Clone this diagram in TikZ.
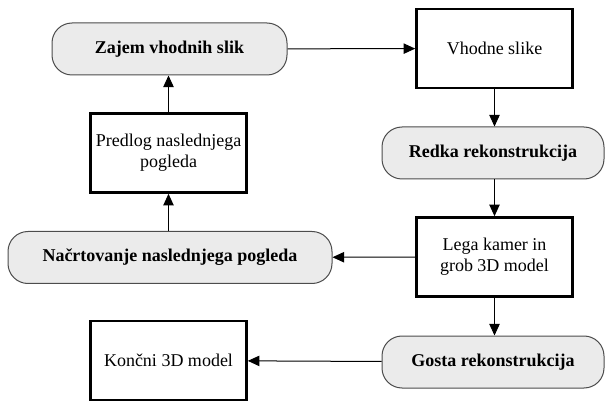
\documentclass[tikz,border=0pt]{standalone}
\usepackage{fontspec}
\setmainfont{Liberation Serif}
\usetikzlibrary{arrows.meta}

\begin{document}
\begin{tikzpicture}[
		x=0.5pt, y=-0.5pt, % koordinate v pikslih slike
		korak/.style={            % zaobljen siv korak
			draw=black!70, fill=black!8,
			rounded corners=10pt, line width=0.5pt,
			minimum height=26pt, inner sep=2pt,
			font=\fontsize{9}{10.5}\selectfont\bfseries
		},
		podatek/.style={          % debel pravokotnik
			draw=black, fill=white, line width=1.3pt,
			minimum width=78pt, minimum height=39.5pt,
			inner sep=2pt, align=center,
			font=\fontsize{9}{10.5}\selectfont
		},
		tok/.style={              % puscica
			-{Triangle[length=5.8pt,width=5.2pt]},
			black, line width=0.5pt
		}
	]
	\useasboundingbox (0,0) rectangle (606,401);

	% --- LEVI STOLPEC ---
	\node[korak, minimum width=117.5pt] (zajem) at (169.5,49) {Zajem vhodnih slik};
	\node[podatek] (predlog) at (168.5,153) {Predlog naslednjega\\pogleda};
	\node[korak, minimum width=162pt] (nacrt) at (170,257.5) {Načrtovanje naslednjega pogleda};
	\node[podatek] (koncni) at (168.5,360.5) {Končni 3D model};

	% --- DESNI STOLPEC ---
	\node[podatek] (vhodne) at (494.5,48.5) {Vhodne slike};
	\node[korak, minimum width=111pt] (redka) at (493,153) {Redka rekonstrukcija};
	\node[podatek] (lega) at (494.5,257) {Lega kamer in\\grob 3D model};
	\node[korak, minimum width=111pt] (gosta) at (493,362) {Gosta rekonstrukcija};

	% --- PUSCICE ---
	\draw[tok] (zajem) -- (vhodne);
	\draw[tok] (vhodne.south) -- (vhodne.south |- redka.north);
	\draw[tok] (redka.south -| lega.north) -- (lega.north);
	\draw[tok] (lega) -- (nacrt);
	\draw[tok] (lega.south) -- (lega.south |- gosta.north);
	\draw[tok] (gosta) -- (koncni);
	\draw[tok] (nacrt.north -| predlog.south) -- (predlog.south);
	\draw[tok] (predlog.north) -- (predlog.north |- zajem.south);
\end{tikzpicture}
\end{document}
